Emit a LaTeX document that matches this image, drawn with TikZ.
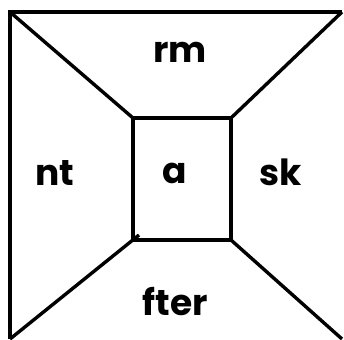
\documentclass[tikz,border=0pt]{standalone}
\usepackage{fontspec}
\setmainfont{Poppins}[BoldFont={* Bold}]
\begin{document}
\begin{tikzpicture}[x=1pt,y=-1pt,
  edge/.style={line width=3.4pt,line cap=butt,line join=miter},
  lbl/.style={font=\fontsize{36}{40}\selectfont\bfseries,inner sep=0pt,anchor=base}]
\useasboundingbox (0,0) rectangle (344,339);
\coordinate (OTL) at (10,12);
\coordinate (OTR) at (342,12);
\coordinate (OBL) at (10,339);
\coordinate (OBR) at (342,339);
\coordinate (ITL) at (133,118);
\coordinate (ITR) at (231,118);
\coordinate (IBL) at (133,240);
\coordinate (IBR) at (231,240);
\coordinate (TIP) at (139,235);
\draw[edge] (OBL) -- (OTL) -- (OTR);
\draw[edge] (ITL) rectangle (IBR);
\draw[edge] (OTL) -- (ITL);
\draw[edge] (OTR) -- (ITR);
\draw[edge] (OBL) -- (TIP);
\draw[edge] (IBR) -- (OBR);
\node[lbl] (rm) at (180,63) {rm};
\node[lbl] (nt) at (55,185) {nt};
\node[lbl] (a) at (175,183) {a};
\node[lbl] (sk) at (281,185) {sk};
\node[lbl] (fter) at (175,315) {fter};
\end{tikzpicture}
\end{document}
